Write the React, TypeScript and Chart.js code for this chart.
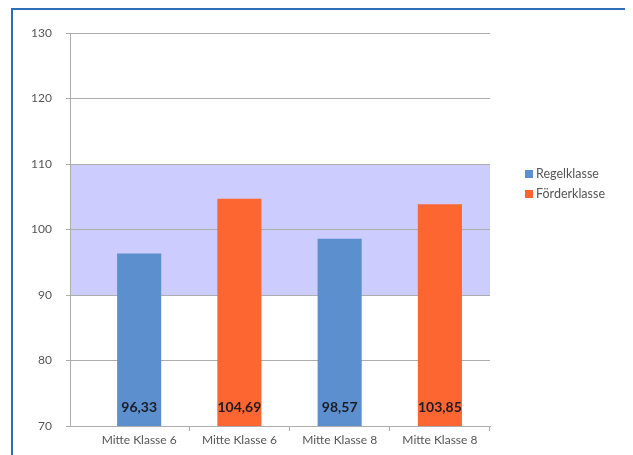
import React, { useEffect, useRef } from 'react';
import { Chart, registerables } from 'chart.js';

Chart.register(...registerables);

// Category labels along the x axis (one per bar)
const categories = ['Mitte Klasse 6', 'Mitte Klasse 6', 'Mitte Klasse 8', 'Mitte Klasse 8'];

// Series
const seriesNames = ['Regelklasse', 'Förderklasse'];
const seriesColors = ['#5b8fce', '#fd6531'];

// Category slot (1-based) and value of every bar in each series
const regelPositions = [1, 3];
const regelValues = [96.33, 98.57];
const foerderPositions = [2, 4];
const foerderValues = [104.69, 103.85];

// Value axis
const yTicks = [70, 80, 90, 100, 110, 120, 130];

// Shaded norm range
const normBand = [90, 110];

const FONT = 'Lato, "Open Sans", "DejaVu Sans", sans-serif';
const GRID = '#adadad';

const fmt = (v: number) => v.toFixed(2).replace('.', ',');

// Filled norm band painted beneath the grid lines
const bandPlugin = {
  id: 'normBand',
  beforeDraw(chart: any) {
    const { ctx, chartArea, scales } = chart;
    const y = scales.y;
    const top = y.getPixelForValue(normBand[1]);
    const bottom = y.getPixelForValue(normBand[0]);
    ctx.save();
    ctx.fillStyle = '#ccccfe';
    ctx.fillRect(chartArea.left, top, chartArea.right - chartArea.left, bottom - top);
    ctx.restore();
  },
};

// Value labels near the foot of each bar
const valueLabelPlugin = {
  id: 'valueLabels',
  afterDraw(chart: any) {
    const { ctx, scales } = chart;
    const baseY = scales.y.getPixelForValue(yTicks[0]);
    ctx.save();
    ctx.font = 'bold 14px Lato, sans-serif';
    ctx.fillStyle = '#1c1c24';
    ctx.textAlign = 'center';
    ctx.textBaseline = 'middle';
    chart.data.datasets.forEach((ds: any) => {
      ds.data.forEach((pt: any) => {
        const px = scales.x.getPixelForValue(pt.x);
        ctx.fillText(fmt(pt.y), px, baseY - 19);
      });
    });
    ctx.restore();
  },
};

export default function App() {
  const ref = useRef<HTMLCanvasElement>(null);

  useEffect(() => {
    document.documentElement.style.overflow = 'hidden';
    document.body.style.overflow = 'hidden';
    if (!ref.current) return;
    const chart = new Chart(ref.current, {
      type: 'bar',
      data: {
        datasets: [
          {
            label: seriesNames[0],
            data: regelPositions.map((x, i) => ({ x, y: regelValues[i] })),
            backgroundColor: seriesColors[0],
          },
          {
            label: seriesNames[1],
            data: foerderPositions.map((x, i) => ({ x, y: foerderValues[i] })),
            backgroundColor: seriesColors[1],
          },
        ] as any,
      },
      options: {
        animation: false,
        responsive: false,
        maintainAspectRatio: false,
        layout: { padding: { left: 0, top: 25, right: 135, bottom: 0 } },
        datasets: {
          bar: { grouped: false, barPercentage: 0.44, categoryPercentage: 1 },
        },
        plugins: {
          legend: { display: false },
          tooltip: { enabled: false },
        },
        scales: {
          x: {
            type: 'linear',
            min: 0.31,
            max: 4.5,
            offset: false,
            afterBuildTicks: (scale: any) => {
              scale.ticks = categories.map((_, i) => ({ value: i + 1 }));
            },
            afterFit: (scale: any) => {
              scale.height = 29;
            },
            ticks: {
              autoSkip: false,
              maxRotation: 0,
              padding: 2,
              color: '#555',
              font: { family: FONT, size: 12 },
              callback: (v: any) => categories[Math.round(Number(v)) - 1] ?? '',
            },
            grid: {
              offset: true,
              drawOnChartArea: false,
              drawTicks: true,
              tickLength: 5,
              color: (c: any) => (c.index === 0 ? 'rgba(0,0,0,0)' : GRID),
            },
            border: { display: true, color: GRID },
          },
          y: {
            min: 70,
            max: 130,
            afterBuildTicks: (scale: any) => {
              scale.ticks = yTicks.map((value) => ({ value }));
            },
            afterFit: (scale: any) => {
              scale.width = 62;
            },
            ticks: {
              padding: 14,
              color: '#555',
              font: { family: FONT, size: 12 },
            },
            grid: { color: GRID, tickLength: 4, drawTicks: true },
            border: { display: true, color: GRID },
          },
        },
      } as any,
      plugins: [bandPlugin, valueLabelPlugin],
    });
    return () => chart.destroy();
  }, []);

  return (
    <div style={{ position: 'relative', width: 622, height: 447 }}>
      <div
        style={{
          position: 'absolute',
          left: 3,
          top: 0,
          width: 619,
          height: 460,
          boxSizing: 'border-box',
          borderTop: '2px solid #2f6fba',
          borderLeft: '2px solid #2f6fba',
          borderRight: '2px solid #2f6fba',
        }}
      />
      <canvas
        ref={ref}
        width={617}
        height={447}
        style={{ position: 'absolute', left: 0, top: 0, width: 617, height: 447 }}
      />
      <div
        style={{
          position: 'absolute',
          left: 517,
          top: 156,
          fontFamily: FONT,
          fontSize: 12.5,
          color: '#555',
          lineHeight: '20px',
        }}
      >
        {seriesNames.map((name, i) => (
          <div key={name} style={{ display: 'flex', alignItems: 'center' }}>
            <span
              style={{
                display: 'inline-block',
                width: 8,
                height: 8,
                background: seriesColors[i],
                marginRight: 3,
              }}
            />
            <span>{name}</span>
          </div>
        ))}
      </div>
    </div>
  );
}
